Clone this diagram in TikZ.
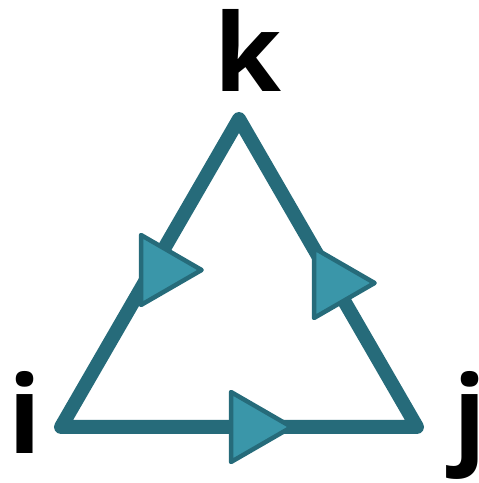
\documentclass[tikz,border=0pt]{standalone}
\usepackage{fontspec}
\setmainfont{Open Sans}[BoldFont={Open Sans Bold}]
\definecolor{edgecol}{HTML}{266B7A}
\definecolor{arrowfill}{HTML}{3A96A9}
\tikzset{
  edgeline/.style={draw=edgecol, line width=14pt, line join=round},
  arrowmark/.style={draw=edgecol, fill=arrowfill, line width=4.5pt, line join=round},
  vlabel/.style={font=\bfseries\fontsize{108}{108}\selectfont, inner sep=0pt, anchor=base}
}
\begin{document}
\begin{tikzpicture}[x=1pt,y=1pt]
\useasboundingbox (0,0) rectangle (479,483);
\coordinate (I) at (61,56);
\coordinate (J) at (417,56);
\coordinate (K) at (239,364);
\draw[edgeline] (I) -- (J) -- (K) -- cycle;
% arrow markers (left edge centre)
\coordinate (MA) at (141,213);
\coordinate (MB) at (314,200);
\coordinate (MC) at (231,56);
\foreach \m in {MA,MB,MC}{
  \draw[arrowmark] ([yshift=35]\m) -- ([xshift=60.6]\m) -- ([yshift=-35]\m) -- cycle;
}
\node[vlabel] (k) at (248,391) {k};
\node[vlabel] (i) at (25,29) {i};
\node[vlabel] (j) at (470,29) {j};
\end{tikzpicture}
\end{document}
